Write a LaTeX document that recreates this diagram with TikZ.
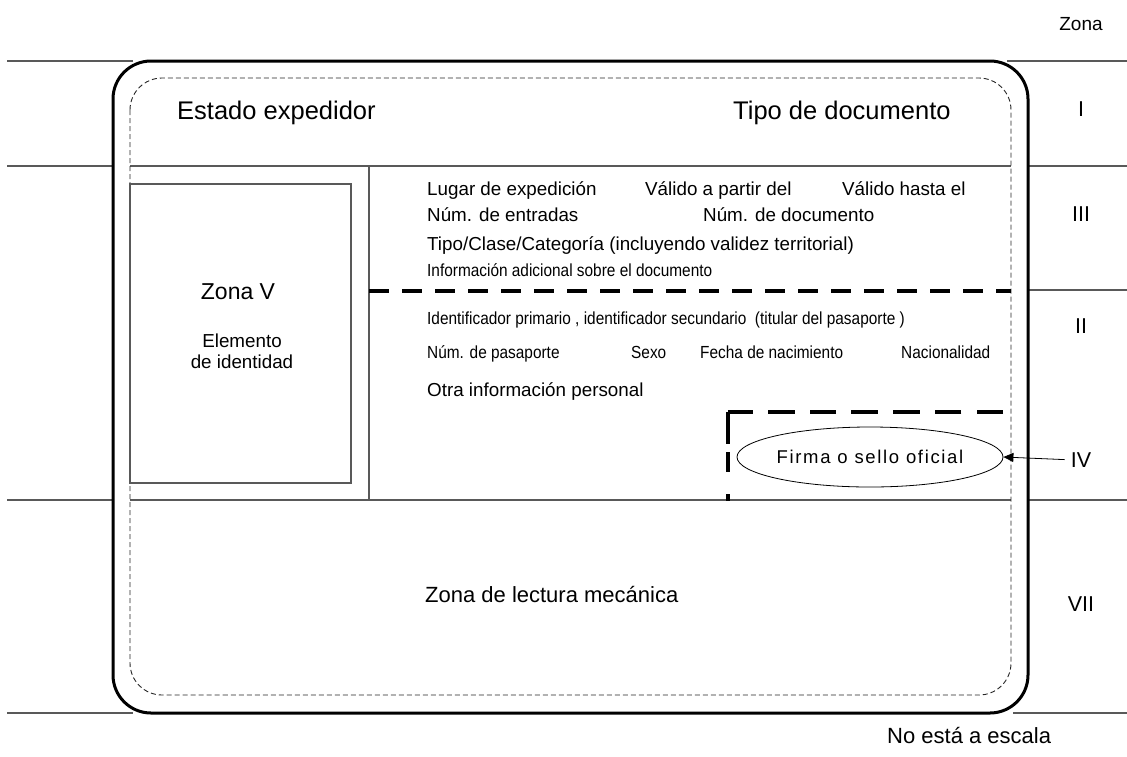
\documentclass[tikz,border=0pt]{standalone}
\usepackage{fontspec}
\setmainfont{Liberation Sans}
\newfontfamily\narrowfont[FakeStretch=0.88]{Liberation Sans}
\newfontfamily\spacedfont[LetterSpace=9]{Liberation Sans}
\usetikzlibrary{arrows.meta,positioning,shapes.geometric}

\begin{document}
\begin{tikzpicture}[x=1pt, y=-1pt,
    zoneline/.style={draw=black!65, line width=1.1pt},
    card/.style={draw=black, line width=3pt, rounded corners=38pt},
    inner/.style={draw=black!85, line width=0.9pt, dash pattern=on 5pt off 3pt, rounded corners=32pt},
    heavydash/.style={line width=3.2pt, dash pattern=on 20pt off 13pt},
    txt/.style={inner sep=0pt, anchor=base west, font=\fontsize{18.8}{22}\selectfont},
    small/.style={inner sep=0pt, anchor=base west, font=\narrowfont\fontsize{17.5}{20}\selectfont},
    big/.style={inner sep=0pt, anchor=base west, font=\fontsize{25.5}{30}\selectfont},
    zone/.style={inner sep=0pt, anchor=base, font=\fontsize{21.5}{24}\selectfont},
]
    \useasboundingbox (0,0) rectangle (1127,756);

    \foreach \y/\a/\b in {61/7/133, 166/7/113, 500/7/113, 713/7/133}
        \draw[zoneline] (\a,\y) -- (\b,\y);
    \foreach \y/\a in {61/1007, 166/1028, 290/1028, 500/1028, 713/1013}
        \draw[zoneline] (\a,\y) -- (1127,\y);
    \foreach \y in {166, 500}
        \draw[zoneline] (130,\y) -- (1011,\y);

    \draw[card] (113,61) rectangle (1028,713);
    \draw[inner] (130,78) rectangle (1011,695);
    \draw[zoneline] (130,184) rectangle (351,483);
    \draw[zoneline] (369,166) -- (369,500);
    \draw[heavydash] (369,291) -- (1011,291);
    \draw[heavydash, dash pattern=on 26.5pt off 15.2pt] (1003,412) -- (728,412);
    \draw[heavydash, dash pattern=on 32pt off 8pt on 20pt off 22pt] (728,412) -- (728,501);

    \node[big] (estado) at (177,119) {Estado expedidor};
    \node[big] (tipodoc) at (733,119) {Tipo de documento};

    \node[txt] (lugar) at (427,195) {Lugar de expedición};
    \node[txt] (desde) at (645,195) {Válido a partir del};
    \node[txt] (hasta) at (842,195) {Válido hasta el};
    \node[txt] (entradas) at (427,221) {Núm. de entradas};
    \node[txt] (numdoc) at (703,221) {Núm. de documento};
    \node[txt] (clase) at (427,250) {Tipo/Clase/Categoría (incluyendo validez territorial)};
    \node[small] (adicional) at (427,276) {Información adicional sobre el documento};

    \node[small] (ident) at (427,324) {Identificador primario , identificador secundario\ \ (titular del pasaporte\ )};
    \node[small] (pasaporte) at (427,358) {Núm. de pasaporte};
    \node[small] (sexo) at (631,358) {Sexo};
    \node[small] (nacim) at (700,358) {Fecha de nacimiento};
    \node[small] (nacion) at (901,358) {Nacionalidad};
    \node[txt] (otra) at (427,396) {Otra información personal};

    \node[inner sep=0pt, anchor=base, font=\fontsize{23}{26}\selectfont] (zonaV) at (238,299) {Zona V};
    \node[inner sep=0pt, anchor=base, font=\fontsize{18.8}{22}\selectfont] (elem) at (242,347) {Elemento};
    \node[inner sep=0pt, anchor=base, font=\fontsize{18.8}{22}\selectfont, below=8pt of elem.base] (ident2) {de identidad};

    \node[inner sep=0pt, anchor=base west, font=\fontsize{22}{26}\selectfont] (lectura) at (425,602) {Zona de lectura mecánica};

    \node[draw, ellipse, line width=0.8pt, minimum width=266pt, minimum height=60pt, inner sep=0pt,
        font=\spacedfont\fontsize{18.5}{20}\selectfont] (firma) at (870,457) {Firma o sello oficial};

    \node[zone, font=\fontsize{19}{22}\selectfont] (zona) at (1081,30) {Zona};
    \node[zone] (zI) at (1081,116) {I};
    \node[zone] (zIII) at (1081,221) {III};
    \node[zone] (zII) at (1081,333) {II};
    \node[zone] (zIV) at (1081,467) {IV};
    \node[zone] (zVII) at (1081,611) {VII};
    \draw[line width=0.8pt, -{Triangle[length=10pt,width=9pt]}] ([xshift=-6pt]zIV.west) -- (firma.east);

    \node[inner sep=0pt, anchor=base west, font=\fontsize{22}{24}\selectfont] (escala) at (887,743) {No está a escala};
\end{tikzpicture}
\end{document}
